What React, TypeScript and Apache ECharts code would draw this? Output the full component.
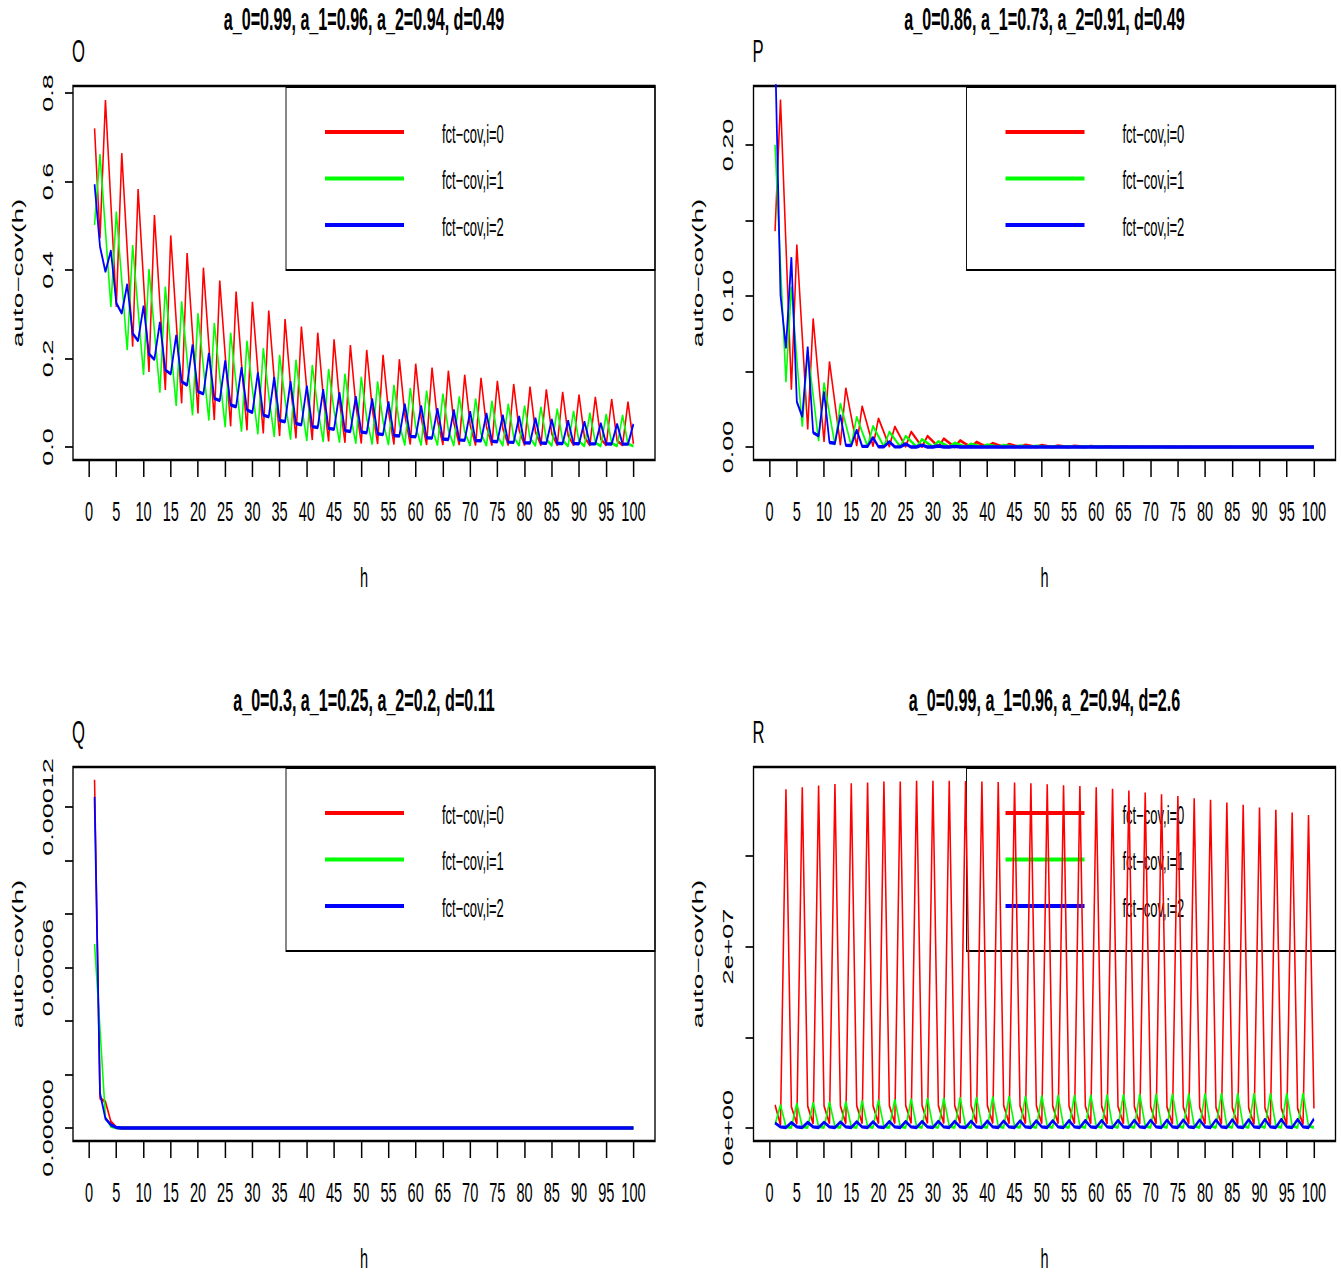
import React, { useEffect, useRef } from "react";
import * as echarts from "echarts";

// horizontal compression of the reference picture
const K = 0.52;
const PAGE_W = 1341;
const PAGE_H = 1274;
const FONT = "'Liberation Sans', Arial, Helvetica, sans-serif";

const LAGS = Array.from({ length: 100 }, (_, i) => i + 1);
const X_TICKS = [0, 5, 10, 15, 20, 25, 30, 35, 40, 45, 50, 55, 60, 65, 70, 75, 80, 85, 90, 95, 100];

const SERIES_NAMES = ["fct\u2212cov,i=0", "fct\u2212cov,i=1", "fct\u2212cov,i=2"];
const SERIES_COLORS = ["#ff0000", "#00ff00", "#0000ff"];

const TITLES = [
  "a_0=0.99, a_1=0.96, a_2=0.94, d=0.49",
  "a_0=0.86, a_1=0.73, a_2=0.91, d=0.49",
  "a_0=0.3, a_1=0.25, a_2=0.2, d=0.11",
  "a_0=0.99, a_1=0.96, a_2=0.94, d=2.6",
];
const LETTERS = ["O", "P", "Q", "R"];

// ---------- panel O ----------
const O_RED = [
  0.720, 0.472, 0.784, 0.550, 0.317, 0.664, 0.445, 0.227, 0.583, 0.375,
  0.170, 0.524, 0.325, 0.129, 0.478, 0.285, 0.099, 0.438, 0.255, 0.076,
  0.405, 0.230, 0.061, 0.376, 0.208, 0.047, 0.351, 0.188, 0.038, 0.328,
  0.172, 0.031, 0.308, 0.155, 0.025, 0.289, 0.140, 0.020, 0.272, 0.128,
  0.016, 0.258, 0.116, 0.013, 0.243, 0.104, 0.010, 0.230, 0.095, 0.008,
  0.219, 0.088, 0.007, 0.208, 0.080, 0.006, 0.198, 0.073, 0.006, 0.188,
  0.066, 0.005, 0.179, 0.060, 0.005, 0.172, 0.055, 0.005, 0.163, 0.050,
  0.004, 0.156, 0.046, 0.004, 0.149, 0.042, 0.004, 0.142, 0.038, 0.004,
  0.136, 0.034, 0.004, 0.130, 0.030, 0.004, 0.124, 0.026, 0.004, 0.118,
  0.022, 0.004, 0.113, 0.018, 0.004, 0.108, 0.014, 0.004, 0.102, 0.007,
];
const O_GREEN = [
  0.502, 0.662, 0.490, 0.317, 0.532, 0.375, 0.219, 0.456, 0.310, 0.163,
  0.402, 0.262, 0.123, 0.362, 0.227, 0.093, 0.329, 0.200, 0.072, 0.302,
  0.180, 0.060, 0.280, 0.160, 0.045, 0.258, 0.144, 0.035, 0.240, 0.130,
  0.029, 0.223, 0.118, 0.023, 0.208, 0.107, 0.017, 0.197, 0.097, 0.014,
  0.185, 0.089, 0.012, 0.176, 0.082, 0.010, 0.165, 0.073, 0.008, 0.158,
  0.065, 0.006, 0.148, 0.058, 0.005, 0.140, 0.052, 0.004, 0.133, 0.046,
  0.004, 0.127, 0.042, 0.004, 0.120, 0.038, 0.003, 0.114, 0.034, 0.003,
  0.109, 0.030, 0.003, 0.104, 0.026, 0.003, 0.097, 0.023, 0.003, 0.093,
  0.020, 0.003, 0.090, 0.018, 0.003, 0.086, 0.015, 0.002, 0.081, 0.013,
  0.002, 0.077, 0.010, 0.002, 0.074, 0.009, 0.002, 0.072, 0.007, 0.002,
];
const O_BLUE = [
  0.594, 0.453, 0.396, 0.444, 0.325, 0.302, 0.368, 0.257, 0.240, 0.319,
  0.210, 0.198, 0.282, 0.174, 0.165, 0.253, 0.148, 0.140, 0.231, 0.125,
  0.120, 0.212, 0.110, 0.105, 0.195, 0.095, 0.091, 0.180, 0.084, 0.078,
  0.168, 0.072, 0.068, 0.158, 0.060, 0.057, 0.148, 0.053, 0.050, 0.138,
  0.046, 0.044, 0.130, 0.042, 0.040, 0.123, 0.037, 0.035, 0.114, 0.034,
  0.032, 0.109, 0.030, 0.028, 0.102, 0.026, 0.025, 0.097, 0.024, 0.023,
  0.093, 0.021, 0.020, 0.087, 0.018, 0.017, 0.084, 0.016, 0.015, 0.080,
  0.0145, 0.014, 0.076, 0.013, 0.012, 0.072, 0.011, 0.0105, 0.069, 0.0095,
  0.009, 0.065, 0.0088, 0.0085, 0.0625, 0.008, 0.0078, 0.0595, 0.0076, 0.0074,
  0.057, 0.0072, 0.007, 0.0535, 0.007, 0.0068, 0.052, 0.0067, 0.0065, 0.052,
];

// ---------- panel P ----------
const P_RED = [
  0.143, 0.230, 0.134, 0.038, 0.134, 0.073, 0.0117, 0.085, 0.044, 0.0035,
  0.0565, 0.029, 0.0013, 0.039, 0.020, 0.0008, 0.027, 0.014, 0.0005, 0.019,
  0.0097, 0.0003, 0.0135, 0.0068, 0.0002, 0.0101, 0.0051, 0.0001, 0.0073, 0.0037,
  0.0001, 0.0056, 0.0028, 0, 0.0043, 0.0021, 0, 0.0033, 0.0016, 0,
  0.0025, 0.0012, 0, 0.0019, 0.0009, 0, 0.0014, 0.0007, 0, 0.0011,
  0.0005, 0, 0.0008, 0.0004, 0, 0.0006, 0.0003, 0, 0.0005, 0.0002,
  0, 0.0004, 0.0002, 0, 0.0003, 0.0001, 0, 0.0002, 0.0001, 0,
  0.0002, 0.0001, 0, 0.0001, 0, 0, 0.0001, 0, 0, 0.0001,
  0, 0, 0.0001, 0, 0, 0, 0, 0, 0, 0,
  0, 0, 0, 0, 0, 0, 0, 0, 0, 0,
];
const P_GREEN = [
  0.200, 0.120, 0.043, 0.106, 0.058, 0.0135, 0.064, 0.034, 0.004, 0.0426,
  0.022, 0.0015, 0.0289, 0.015, 0.0008, 0.020, 0.010, 0.0005, 0.0139, 0.007,
  0.0003, 0.0101, 0.0052, 0.0002, 0.0073, 0.0037, 0.0001, 0.0051, 0.0026, 0.0001,
  0.0037, 0.0019, 0, 0.0027, 0.0014, 0, 0.0020, 0.0010, 0, 0.0015,
  0.0008, 0, 0.0011, 0.0006, 0, 0.0008, 0.0004, 0, 0.0006, 0.0003,
  0, 0.0004, 0.0002, 0, 0.0003, 0.0001, 0, 0.0002, 0.0001, 0,
  0.0001, 0, 0, 0.0001, 0, 0, 0, 0, 0, 0,
  0, 0, 0, 0, 0, 0, 0, 0, 0, 0,
  0, 0, 0, 0, 0, 0, 0, 0, 0, 0,
  0, 0, 0, 0, 0, 0, 0, 0, 0, 0,
];
const P_BLUE = [
  0.265, 0.1007, 0.0654, 0.1256, 0.030, 0.020, 0.0664, 0.0095, 0.0073, 0.0366,
  0.003, 0.0025, 0.0212, 0.0012, 0.001, 0.0113, 0.0005, 0.0004, 0.0062, 0.0002,
  0.0002, 0.0035, 0.0001, 0.0001, 0.002, 0, 0, 0.0012, 0, 0,
  0.0007, 0, 0, 0.0004, 0, 0, 0.0002, 0, 0, 0.0001,
  0, 0, 0, 0, 0, 0, 0, 0, 0, 0,
  0, 0, 0, 0, 0, 0, 0, 0, 0, 0,
  0, 0, 0, 0, 0, 0, 0, 0, 0, 0,
  0, 0, 0, 0, 0, 0, 0, 0, 0, 0,
  0, 0, 0, 0, 0, 0, 0, 0, 0, 0,
  0, 0, 0, 0, 0, 0, 0, 0, 0, 0,
];

// ---------- panel Q ----------
const Q_RED = [
  0.0001302, 0.0000111, 0.0000098, 0.0000024, 0.0000002, 0, 0, 0, 0, 0,
  0, 0, 0, 0, 0, 0, 0, 0, 0, 0,
  0, 0, 0, 0, 0, 0, 0, 0, 0, 0,
  0, 0, 0, 0, 0, 0, 0, 0, 0, 0,
  0, 0, 0, 0, 0, 0, 0, 0, 0, 0,
  0, 0, 0, 0, 0, 0, 0, 0, 0, 0,
  0, 0, 0, 0, 0, 0, 0, 0, 0, 0,
  0, 0, 0, 0, 0, 0, 0, 0, 0, 0,
  0, 0, 0, 0, 0, 0, 0, 0, 0, 0,
  0, 0, 0, 0, 0, 0, 0, 0, 0, 0,
];
const Q_GREEN = [
  0.0000688, 0.000037, 0.000004, 0.0000006, 0.0000001, 0, 0, 0, 0, 0,
  0, 0, 0, 0, 0, 0, 0, 0, 0, 0,
  0, 0, 0, 0, 0, 0, 0, 0, 0, 0,
  0, 0, 0, 0, 0, 0, 0, 0, 0, 0,
  0, 0, 0, 0, 0, 0, 0, 0, 0, 0,
  0, 0, 0, 0, 0, 0, 0, 0, 0, 0,
  0, 0, 0, 0, 0, 0, 0, 0, 0, 0,
  0, 0, 0, 0, 0, 0, 0, 0, 0, 0,
  0, 0, 0, 0, 0, 0, 0, 0, 0, 0,
  0, 0, 0, 0, 0, 0, 0, 0, 0, 0,
];
const Q_BLUE = [
  0.0001238, 0.000013, 0.0000035, 0.0000012, 0.0000002, 0, 0, 0, 0, 0,
  0, 0, 0, 0, 0, 0, 0, 0, 0, 0,
  0, 0, 0, 0, 0, 0, 0, 0, 0, 0,
  0, 0, 0, 0, 0, 0, 0, 0, 0, 0,
  0, 0, 0, 0, 0, 0, 0, 0, 0, 0,
  0, 0, 0, 0, 0, 0, 0, 0, 0, 0,
  0, 0, 0, 0, 0, 0, 0, 0, 0, 0,
  0, 0, 0, 0, 0, 0, 0, 0, 0, 0,
  0, 0, 0, 0, 0, 0, 0, 0, 0, 0,
  0, 0, 0, 0, 0, 0, 0, 0, 0, 0,
];

// ---------- panel R ----------
const R_RED = [
  2540000, 350000, 37350000, 2350000, 450000, 37570000, 2400000, 480000, 37760000, 2420000,
  500000, 37940000, 2440000, 500000, 38000000, 2450000, 510000, 38100000, 2460000, 510000,
  38200000, 2470000, 520000, 38200000, 2470000, 520000, 38300000, 2480000, 520000, 38300000,
  2480000, 520000, 38300000, 2480000, 520000, 38250000, 2480000, 520000, 38200000, 2470000,
  520000, 38150000, 2470000, 510000, 38100000, 2460000, 510000, 38000000, 2450000, 500000,
  37900000, 2440000, 500000, 37800000, 2430000, 490000, 37700000, 2420000, 490000, 37570000,
  2410000, 480000, 37400000, 2390000, 470000, 37200000, 2370000, 470000, 37000000, 2350000,
  460000, 36800000, 2330000, 450000, 36600000, 2310000, 440000, 36350000, 2290000, 440000,
  36200000, 2270000, 430000, 35900000, 2250000, 420000, 35650000, 2230000, 410000, 35350000,
  2210000, 400000, 35100000, 2190000, 400000, 34800000, 2170000, 390000, 34500000, 2150000,
];
const R_GREEN = [
  400000, 2540000, 150000, 50000, 2720000, 150000, 50000, 2800000, 160000, 50000,
  2850000, 160000, 50000, 2900000, 160000, 50000, 3000000, 170000, 50000, 3090000,
  170000, 50000, 3150000, 170000, 50000, 3200000, 180000, 50000, 3270000, 180000,
  50000, 3300000, 180000, 50000, 3350000, 190000, 50000, 3400000, 190000, 50000,
  3450000, 190000, 50000, 3480000, 200000, 50000, 3500000, 200000, 50000, 3550000,
  200000, 50000, 3600000, 200000, 50000, 3620000, 200000, 50000, 3650000, 210000,
  50000, 3670000, 210000, 50000, 3700000, 210000, 50000, 3720000, 210000, 50000,
  3740000, 210000, 50000, 3760000, 220000, 50000, 3780000, 220000, 50000, 3790000,
  220000, 50000, 3800000, 220000, 50000, 3810000, 220000, 50000, 3820000, 220000,
  50000, 3820000, 220000, 50000, 3830000, 220000, 50000, 3830000, 220000, 50000,
];
const R_BLUE = [
  550000, 120000, 60000, 600000, 120000, 60000, 620000, 120000, 60000, 640000,
  120000, 60000, 660000, 120000, 60000, 680000, 120000, 60000, 700000, 120000,
  60000, 710000, 120000, 60000, 720000, 120000, 60000, 730000, 120000, 60000,
  740000, 120000, 60000, 750000, 120000, 60000, 760000, 120000, 60000, 770000,
  120000, 60000, 780000, 120000, 60000, 790000, 120000, 60000, 800000, 120000,
  60000, 810000, 120000, 60000, 820000, 120000, 60000, 830000, 120000, 60000,
  840000, 120000, 60000, 850000, 120000, 60000, 860000, 120000, 60000, 870000,
  120000, 60000, 880000, 120000, 60000, 890000, 120000, 60000, 900000, 120000,
  60000, 910000, 120000, 60000, 920000, 120000, 60000, 930000, 120000, 60000,
  940000, 120000, 60000, 950000, 120000, 60000, 960000, 120000, 60000, 1000000,
];

// y ticks / labels
const O_Y_TICKS = [0, 0.2, 0.4, 0.6, 0.8];
const O_Y_LABELS = [0, 0.2, 0.4, 0.6, 0.8];
const P_Y_TICKS = [0, 0.05, 0.1, 0.15, 0.2];
const P_Y_LABELS = [0, 0.1, 0.2];
const Q_Y_TICKS = [0, 0.00002, 0.00004, 0.00006, 0.00008, 0.0001, 0.00012];
const Q_Y_LABELS = [0, 0.00006, 0.00012];
const R_Y_TICKS = [0, 10000000, 20000000, 30000000];
const R_Y_LABELS = [0, 20000000];

const sciFmt = (v: number) => {
  if (v === 0) return "0e+00";
  const e = Math.floor(Math.log10(Math.abs(v)) + 1e-9);
  const m = Math.round(v / Math.pow(10, e));
  return `${m}e+${String(e).padStart(2, "0")}`;
};

type Panel = {
  box: { l: number; t: number; r: number; b: number };
  yMin: number;
  yMax: number;
  yTicks: number[];
  yLabels: number[];
  fmt: (v: number) => string;
  data: number[][];
};

const PANELS: Panel[] = [
  { box: { l: 73, t: 86, r: 655, b: 460 }, yMin: -0.0294, yMax: 0.816, yTicks: O_Y_TICKS, yLabels: O_Y_LABELS, fmt: (v) => v.toFixed(1), data: [O_RED, O_GREEN, O_BLUE] },
  { box: { l: 753.5, t: 86, r: 1335.5, b: 460 }, yMin: -0.0086, yMax: 0.239, yTicks: P_Y_TICKS, yLabels: P_Y_LABELS, fmt: (v) => v.toFixed(2), data: [P_RED, P_GREEN, P_BLUE] },
  { box: { l: 73, t: 767, r: 655, b: 1141 }, yMin: -0.00000486, yMax: 0.00013495, yTicks: Q_Y_TICKS, yLabels: Q_Y_LABELS, fmt: (v) => v.toFixed(5), data: [Q_RED, Q_GREEN, Q_BLUE] },
  { box: { l: 753.5, t: 767, r: 1335.5, b: 1141 }, yMin: -1434000, yMax: 39810000, yTicks: R_Y_TICKS, yLabels: R_Y_LABELS, fmt: sciFmt, data: [R_RED, R_GREEN, R_BLUE] },
];

const sx = (x: number) => x / K;
const LINE_WIDTHS = [3.0, 3.0, 3.4];

function buildOption() {
  const grid: any[] = [];
  const xAxis: any[] = [];
  const yAxis: any[] = [];
  const series: any[] = [];
  const graphic: any[] = [];

  PANELS.forEach((p, i) => {
    const { l, t, r, b } = p.box;
    grid.push({
      left: sx(l), top: t, width: sx(r - l), height: b - t,
      show: true, borderColor: "#000", borderWidth: 2.6, backgroundColor: "transparent",
    });
    xAxis.push({
      gridIndex: i, type: "value", min: -2.96, max: 103.96,
      axisLine: { show: false, onZero: false },
      splitLine: { show: false },
      axisTick: { show: true, customValues: X_TICKS, length: 17, lineStyle: { color: "#000", width: 1.5 / K } },
      axisLabel: { show: true, customValues: X_TICKS, margin: 38, fontSize: 28, fontFamily: FONT, color: "#000" },
    });
    yAxis.push({
      gridIndex: i, type: "value", min: p.yMin, max: p.yMax,
      axisLine: { show: false, onZero: false },
      splitLine: { show: false },
      axisTick: { show: true, customValues: p.yTicks, length: 8 / K, lineStyle: { color: "#000", width: 1.7 } },
      axisLabel: {
        show: true, customValues: p.yLabels, rotate: 90, margin: 34, fontSize: 27,
        fontFamily: FONT, color: "#000", formatter: (v: number) => p.fmt(v),
      },
    });
    p.data.forEach((arr, s) => {
      series.push({
        type: "line", name: SERIES_NAMES[s], xAxisIndex: i, yAxisIndex: i,
        data: LAGS.map((h, j) => [h, arr[j]]),
        symbol: "none", showSymbol: false, clip: true, silent: true,
        lineStyle: { color: SERIES_COLORS[s], width: LINE_WIDTHS[s] },
        itemStyle: { color: SERIES_COLORS[s] },
        z: 2 + s,
      });
    });

    const cx = (l + r) / 2;
    const cy = (t + b) / 2;
    // title
    graphic.push({
      type: "text", x: sx(cx), y: t - 67, silent: true,
      style: { text: TITLES[i], fontSize: 31, fontWeight: "bold", fontFamily: FONT, fill: "#000", align: "center", verticalAlign: "middle" },
    });
    // panel letter
    graphic.push({
      type: "text", x: sx(l - 1), y: t - 35, silent: true,
      style: { text: LETTERS[i], fontSize: 32, fontFamily: FONT, fill: "#000", align: "left", verticalAlign: "middle" },
    });
    // y axis name
    graphic.push({
      type: "text", x: sx(l - 55), y: cy, rotation: Math.PI / 2, silent: true,
      style: { text: "auto\u2212cov(h)", fontSize: 28, fontFamily: FONT, fill: "#000", align: "center", verticalAlign: "middle" },
    });
    // x axis name
    graphic.push({
      type: "text", x: sx(cx), y: b + 118, silent: true,
      style: { text: "h", fontSize: 28, fontFamily: FONT, fill: "#000", align: "center", verticalAlign: "middle" },
    });
    // legend (R style: transparent box at top-right)
    const legL = l + 213;
    const legT = t + 1;
    const legR = r;
    const legB = t + 184;
    graphic.push({
      type: "rect", silent: true,
      shape: { x: sx(legL), y: legT, width: sx(legR - legL), height: legB - legT },
      style: { fill: "none", stroke: "#000", lineWidth: 1.8 },
    });
    SERIES_NAMES.forEach((nm, s) => {
      const yy = legT + 45 + s * 46.5;
      graphic.push({
        type: "line", silent: true,
        shape: { x1: sx(legL + 39), y1: yy, x2: sx(legL + 118), y2: yy },
        style: { stroke: SERIES_COLORS[s], lineWidth: 3.8 },
      });
      graphic.push({
        type: "text", x: sx(legL + 156), y: yy + 2, silent: true,
        style: { text: nm, fontSize: 25, fontFamily: FONT, fill: "#000", align: "left", verticalAlign: "middle" },
      });
    });
  });

  return {
    animation: false,
    backgroundColor: "#ffffff",
    grid, xAxis, yAxis, series, graphic,
  };
}

export default function App() {
  const ref = useRef<HTMLDivElement>(null);
  useEffect(() => {
    if (!ref.current) return;
    const chart = echarts.init(ref.current, null, { renderer: "svg" });
    chart.setOption(buildOption() as any);
    return () => chart.dispose();
  }, []);
  return (
    <div style={{ position: "fixed", left: 0, top: 0, width: PAGE_W, height: PAGE_H, overflow: "hidden", background: "#fff" }}>
      <div
        ref={ref}
        style={{ width: PAGE_W / K, height: PAGE_H, transform: `scaleX(${K})`, transformOrigin: "0 0" }}
      />
    </div>
  );
}
